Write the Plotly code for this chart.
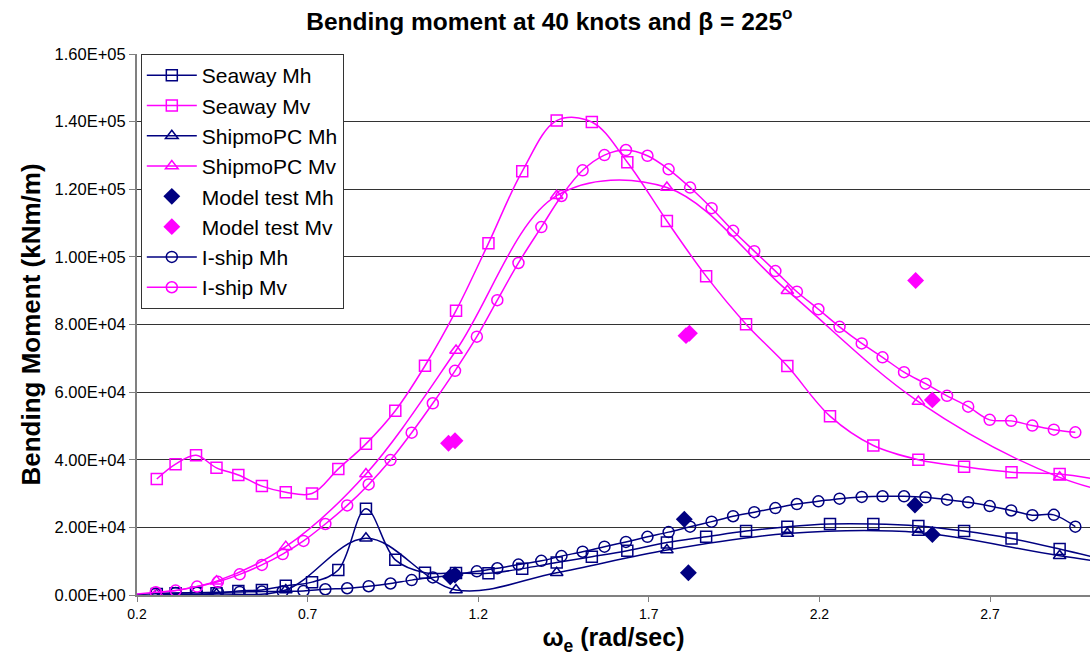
import plotly.graph_objects as go

# ---------------- data ----------------
sw_x = [0.258, 0.313, 0.373, 0.433, 0.497, 0.566, 0.636, 0.713, 0.790, 0.871,
        0.957, 1.044, 1.135, 1.230, 1.329, 1.430, 1.533, 1.637, 1.753, 1.868,
        1.985, 2.106, 2.231, 2.358, 2.490, 2.624, 2.763, 2.904, 3.05]
sw_mh = [300, 500, 700, 500, 1200, 1500, 2700, 3800, 7400, 25500,
         10400, 6600, 6500, 6400, 7800, 9600, 11300, 13100, 15500, 17200,
         18900, 20200, 21000, 21000, 20400, 18900, 16700, 13600, 10000]
sw_mv = [34300, 38700, 41300, 37600, 35500, 32200, 30400, 30000, 37300, 44700,
         54500, 67800, 84100, 104000, 125300, 140300, 139900, 128000, 110600, 94300,
         80100, 67700, 52900, 44200, 40000, 37900, 36300, 35800, 33500]

sp_x = [0.258, 0.433, 0.636, 0.871, 1.135, 1.430, 1.753, 2.106, 2.490, 2.904, 3.35]
sp_mh = [200, 300, 1500, 16800, 1500, 6600, 13300, 18200, 18500, 11600, 5500]
sp_mv = [500, 4100, 14300, 35800, 72300, 118100, 120500, 90000, 57200, 34800, 24000]

mt_h_x = [1.118, 1.132, 1.804, 1.816, 2.480, 2.531]
mt_mh = [5400, 5900, 22400, 6600, 26600, 17900]
mt_v_x = [1.113, 1.132, 1.809, 1.819, 2.482, 2.531]
mt_mv = [44900, 45600, 76700, 77400, 93000, 57700]

is_x = [0.17, 0.255, 0.313, 0.376, 0.437, 0.501, 0.566, 0.627, 0.688, 0.752,
        0.816, 0.879, 0.943, 1.005, 1.067, 1.132, 1.196, 1.256, 1.318, 1.385,
        1.444, 1.506, 1.570, 1.633, 1.696, 1.758, 1.821, 1.884, 1.947, 2.009,
        2.071, 2.134, 2.197, 2.259, 2.324, 2.385, 2.448, 2.511, 2.574, 2.636,
        2.699, 2.762, 2.824, 2.887, 2.950]
is_mh = [0, 400, 600, 700, 800, 900, 1000, 1100, 1200, 1700,
         2000, 2600, 3400, 4400, 5200, 6000, 7000, 7900, 9000, 10100,
         11500, 12800, 14300, 15700, 17200, 18600, 20200, 21700, 23300, 24500,
         25700, 26900, 27700, 28500, 29000, 29200, 29200, 28900, 28200, 27400,
         26300, 25000, 23600, 23700, 20200]
is_mv = [0, 800, 1300, 2500, 3900, 6100, 8900, 12100, 16000, 21000,
         26500, 32700, 39900, 48000, 56700, 66300, 76400, 87200, 98200, 108800,
         118000, 125600, 130100, 131600, 129900, 125900, 120500, 114400, 107700, 101700,
         95800, 89700, 84500, 79300, 74400, 70300, 65900, 62500, 58900, 55700,
         51800, 51500, 50100, 48900, 48100]

y_tickvals = [0, 20000, 40000, 60000, 80000, 100000, 120000, 140000, 160000]
y_ticktext = ["0.00E+00", "2.00E+04", "4.00E+04", "6.00E+04", "8.00E+04",
              "1.00E+05", "1.20E+05", "1.40E+05", "1.60E+05"]
x_tickvals = [0.2, 0.7, 1.2, 1.7, 2.2, 2.7]
x_ticktext = ["0.2", "0.7", "1.2", "1.7", "2.2", "2.7"]

NAVY = "#000080"
MAG = "#FF00FF"
FONT = "Arial, Liberation Sans, sans-serif"

fig = go.Figure()


def line_trace(name, x, y, color, symbol):
    return go.Scatter(
        x=x, y=y, name=name, mode="lines+markers",
        line=dict(color=color, width=1.5, shape="spline", smoothing=1.0),
        marker=dict(symbol=symbol, size=11, color=color,
                    line=dict(color=color, width=1.5)),
    )


fig.add_trace(line_trace("Seaway Mh", sw_x, sw_mh, NAVY, "square-open"))
fig.add_trace(line_trace("Seaway Mv", sw_x, sw_mv, MAG, "square-open"))
fig.add_trace(line_trace("ShipmoPC Mh", sp_x, sp_mh, NAVY, "triangle-up-open"))
fig.add_trace(line_trace("ShipmoPC Mv", sp_x, sp_mv, MAG, "triangle-up-open"))
fig.add_trace(go.Scatter(x=mt_h_x, y=mt_mh, name="Model test Mh", mode="markers",
                         marker=dict(symbol="diamond", size=13, color=NAVY)))
fig.add_trace(go.Scatter(x=mt_v_x, y=mt_mv, name="Model test Mv", mode="markers",
                         marker=dict(symbol="diamond", size=13, color=MAG)))
fig.add_trace(line_trace("I-ship Mh", is_x, is_mh, NAVY, "circle-open"))
fig.add_trace(line_trace("I-ship Mv", is_x, is_mv, MAG, "circle-open"))

fig.update_layout(
    width=1090, height=659,
    margin=dict(l=137, r=0, t=54, b=64),
    paper_bgcolor="white", plot_bgcolor="white",
    font=dict(family=FONT, color="black"),
    title=dict(text="<b>Bending moment at 40 knots and β = 225<sup>o</sup></b>",
               x=0.504, xanchor="center", y=0.968, yanchor="middle",
               font=dict(size=24.5, family=FONT, color="black")),
    showlegend=True,
    legend=dict(x=0.004, y=1.0, xanchor="left", yanchor="top",
                bgcolor="white", bordercolor="#333333", borderwidth=1,
                font=dict(size=21, family=FONT, color="black"),
                tracegroupgap=0, itemwidth=50),
    xaxis=dict(range=[0.2, 2.993], tickvals=x_tickvals, ticktext=x_ticktext,
               showgrid=False, zeroline=False,
               showline=True, linecolor="#808080", linewidth=2,
               ticks="outside", ticklen=5, tickcolor="#808080",
               tickfont=dict(size=14, family=FONT, color="black"),
               title=dict(text="<b>ω<sub>e</sub> (rad/sec)</b>",
                          font=dict(size=25, family=FONT, color="black"),
                          standoff=8)),
    yaxis=dict(range=[0, 160000], tickvals=y_tickvals, ticktext=y_ticktext,
               showgrid=True, gridcolor="#333333", gridwidth=1,
               zeroline=False,
               showline=True, linecolor="#808080", linewidth=2,
               ticks="outside", ticklen=6, tickcolor="#808080",
               tickfont=dict(size=16.5, family=FONT, color="black"),
               title=dict(text="<b>Bending Moment (kNm/m)</b>",
                          font=dict(size=26, family=FONT, color="black"),
                          standoff=6)),
)

fig.write_html("out.html")
